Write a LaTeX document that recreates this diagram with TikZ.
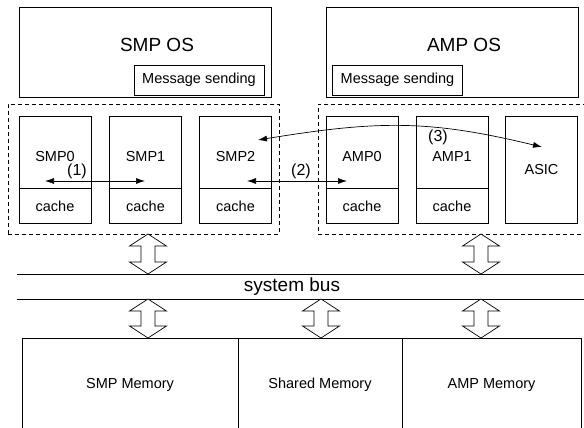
\documentclass[tikz,border=0pt]{standalone}
\usepackage{fontspec}
\setmainfont{Liberation Sans}
\usetikzlibrary{arrows.meta}

% fat double arrow between two levels: x, top y, bottom y
\newcommand{\busarrow}[3]{%
  \draw[fill=white] (#1,#2) -- ({#1+18.5},{#2+12}) -- ({#1+7},{#2+12})
    -- ({#1+7},{#3-12}) -- ({#1+18.5},{#3-12}) -- (#1,#3)
    -- ({#1-18.5},{#3-12}) -- ({#1-7},{#3-12}) -- ({#1-7},{#2+12})
    -- ({#1-18.5},{#2+12}) -- cycle;}

\begin{document}
\begin{tikzpicture}[x=1pt, y=-1pt, line width=0.7pt,
    every node/.style={font=\fontsize{14.5}{16}\selectfont, inner sep=0pt},
    osbox/.style={draw, minimum width=252, minimum height=90},
    msgbox/.style={draw, minimum width=130, minimum height=30},
    grp/.style={draw, dash pattern=on 4pt off 3pt, minimum height=130},
    core/.style={draw, minimum width=72, minimum height=72, text height=18pt, text depth=0pt},
    cache/.style={draw, minimum width=72, minimum height=35, anchor=north},
    mem/.style={draw, minimum height=94},
    bigtext/.style={font=\fontsize{19}{22}\selectfont},
    numlbl/.style={font=\fontsize{16}{18}\selectfont},
    dbl/.style={{Latex[length=9pt,width=6pt]}-{Latex[length=9pt,width=6pt]}}]
    \clip (0,0) rectangle (584,428);

    % operating systems
    \node (smpos) [osbox] at (145,52) {};
    \node (ampos) [osbox] at (452,52) {};
    \node (smpostxt) [bigtext] at (157,45) {SMP OS};
    \node (ampostxt) [bigtext] at (464,45) {AMP OS};
    \node (smpmsg) [msgbox] at (199,80) {Message sending};
    \node (ampmsg) [msgbox] at (397.5,80) {Message sending};

    % processor groups
    \node (smpgrp) [grp, minimum width=271] at (143.5,169) {};
    \node (ampgrp) [grp, minimum width=290] at (463,169) {};

    \node (smp0) [core] at (55,152) {SMP0};
    \node (smp1) [core] at (145.5,152) {SMP1};
    \node (smp2) [core] at (235.5,152) {SMP2};
    \node (amp0) [core] at (362,152) {AMP0};
    \node (amp1) [core] at (452,152) {AMP1};
    \node (asic) [draw, minimum width=72, minimum height=107] at (541.5,169.5) {ASIC};

    \node (smp0c) [cache] at (smp0.south) {cache};
    \node (smp1c) [cache] at (smp1.south) {cache};
    \node (smp2c) [cache] at (smp2.south) {cache};
    \node (amp0c) [cache] at (amp0.south) {cache};
    \node (amp1c) [cache] at (amp1.south) {cache};

    % system bus
    \coordinate (bustl) at (17,274);
    \coordinate (bustr) at (590,274);
    \coordinate (busbl) at (17,299);
    \coordinate (busbr) at (590,299);
    \draw (bustl) -- (bustr);
    \draw (busbl) -- (busbr);
    \node (sysbus) [bigtext] at (292,287) {system bus};

    \busarrow{148}{234}{274}
    \busarrow{481}{234}{274}
    \busarrow{148}{299}{338}
    \busarrow{321}{299}{338}
    \busarrow{481}{299}{338}

    % memory
    \node (smpmem) [mem, minimum width=216] at (130,385) {SMP Memory};
    \node (shmem) [mem, minimum width=164] at (320,385) {Shared Memory};
    \node (ampmem) [mem, minimum width=179] at (491.5,385) {AMP Memory};

    % messages
    \coordinate (m1a) at (45,181);
    \coordinate (m1b) at (145,181);
    \coordinate (m2a) at (247,181);
    \coordinate (m2b) at (347,181);
    \coordinate (m3a) at (258,140);
    \coordinate (m3b) at (542,147);
    \draw [dbl] (m1a) -- (m1b);
    \draw [dbl] (m2a) -- (m2b);
    \draw [dbl] (m3a) .. controls (380,120) and (430,120) .. (m3b);
    \node (l1) [numlbl] at (77,171) {(1)};
    \node (l2) [numlbl] at (301,171) {(2)};
    \node (l3) [numlbl] at (438,137) {(3)};
\end{tikzpicture}
\end{document}
